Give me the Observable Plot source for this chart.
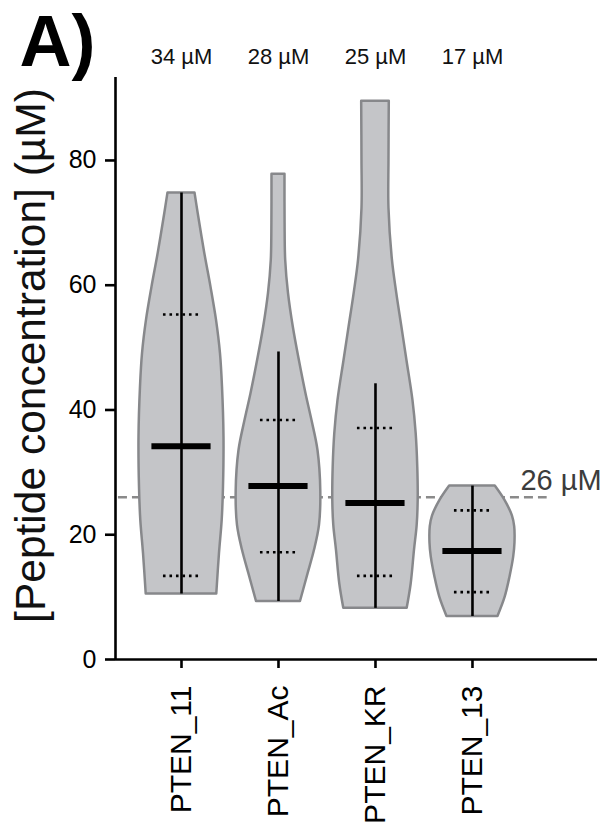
<!DOCTYPE html>
<html><head><meta charset="utf-8">
<script src="https://cdn.jsdelivr.net/npm/d3@7"></script>
<script src="https://cdn.jsdelivr.net/npm/@observablehq/plot@0.6"></script>
<style>body{margin:0;background:#fff}#chart svg{display:block}</style>
</head><body><div id="chart"></div>
<script>
const panelLabel = "A)";
const yLabel = "[Peptide concentration] (µM)";
const categories = ["PTEN_11", "PTEN_Ac", "PTEN_KR", "PTEN_13"];
const medianLabels = ["34 µM", "28 µM", "25 µM", "17 µM"];
const medians = [34.2, 27.8, 25.1, 17.4];
const q1 = [13.4, 17.2, 13.4, 10.8];
const q3 = [55.3, 38.4, 37.1, 23.9];
const whiskerLow = [10.5, 9.3, 8.2, 6.9];
const whiskerHigh = [74.8, 49.3, 44.2, 27.8];
const referenceValue = 26;
const referenceLabel = "26 µM";
const yTicks = [0, 20, 40, 60, 80];

// violin density profiles: [concentration, density (arbitrary units)]
const profile11 = [[10.5,35.3],[17.0,38],[22.3,40.7],[27.6,42],[35.7,42.5],[43.7,41],[49.0,39],[54.4,35],[59.7,29.5],[65.1,23.3],[71.5,16.7],[74.8,13.5]];
const profileAc = [[9.3,22],[13.8,29.7],[17.5,36],[21.5,41],[27,42.3],[33.5,39.5],[38.3,33.5],[42.6,27.5],[48,20.8],[53.3,14.8],[58.7,10],[64,7.2],[70,6.6],[77.8,6.5]];
const profileKR = [[8.2,31.7],[12.1,35.7],[17.5,39],[21.5,41.7],[25.5,42.7],[30.8,42.3],[36.2,40.7],[41.5,37.5],[47.9,31.5],[53.3,26.4],[58.7,21.3],[64.1,16.9],[72.3,13.5],[80,13.5],[89.5,13.8]];
const profile13 = [[6.9,25.5],[10,32.7],[13.2,37.5],[16.4,41.2],[18.7,42.5],[21.3,42.2],[23.0,40],[25.5,32.5],[27.8,22.8]];
const profiles = [profile11, profileAc, profileKR, profile13];

const densityToWidth = 1 / 97;   // density units -> category units (half-width)
const idx = categories.map((_, i) => i);
const pos = i => i + 1;

const violinRows = profiles.flatMap((p, i) => p.map(([v, d]) => ({
  cat: categories[i], value: v, lo: pos(i) - d * densityToWidth, hi: pos(i) + d * densityToWidth
})));

const font = "'Liberation Sans', Arial, Helvetica, sans-serif";
const fillGray = "#c4c5c8";
const strokeGray = "#87888b";

const chart = Plot.plot({
  width: 610,
  height: 828,
  marginLeft: 115,
  marginRight: 13,
  marginTop: 77,
  marginBottom: 169,
  style: {fontFamily: font, background: "#fff", overflow: "visible"},
  x: {domain: [0.3196, 5.289], axis: null},
  y: {domain: [0, 93.3], axis: null},
  marks: [
    // reference line
    Plot.ruleY([referenceValue], {x1: 0.35, x2: 4.77, stroke: "#8a8a8a", strokeWidth: 2.6, strokeDasharray: "9,5"}),
    Plot.text([referenceLabel], {x: 4.495, y: referenceValue, text: d => d, textAnchor: "start", lineAnchor: "bottom", dy: -7, fontSize: 29, fill: "#3c3c3c"}),
    // violins
    Plot.areaX(violinRows, {y: "value", x1: "lo", x2: "hi", z: "cat", curve: "catmull-rom", fill: fillGray, stroke: strokeGray, strokeWidth: 2.5}),
    // whiskers
    Plot.ruleX(idx, {x: pos, y1: i => whiskerLow[i], y2: i => whiskerHigh[i], stroke: "#000", strokeWidth: 2.6}),
    // quartiles
    Plot.ruleY(idx.flatMap(i => [[i, q1[i]], [i, q3[i]]]), {y: d => d[1], x1: d => pos(d[0]) - 0.186, x2: d => pos(d[0]) + 0.186, stroke: "#000", strokeWidth: 2.6, strokeDasharray: "2.6,3.9"}),
    // medians
    Plot.ruleY(idx, {y: i => medians[i], x1: i => pos(i) - 0.305, x2: i => pos(i) + 0.305, stroke: "#000", strokeWidth: 6}),
    // axes lines
    Plot.ruleY([0], {stroke: "#000", strokeWidth: 2.6}),
    Plot.ruleX([0.3196], {stroke: "#000", strokeWidth: 2.6}),
    Plot.axisY({ticks: yTicks, tickSize: 10, tickPadding: 9, fontSize: 25, strokeWidth: 2.6, label: null, color: "#000"}),
    Plot.axisX({ticks: idx.map(pos), tickFormat: d => categories[d - 1], tickRotate: -90, tickSize: 9, tickPadding: 17, fontSize: 30, strokeWidth: 2.6, label: null, color: "#000"}),
    // median labels on top
    Plot.text(idx, {x: pos, text: i => medianLabels[i], frameAnchor: "top", lineAnchor: "bottom", dy: -14, fontSize: 22, fill: "#111"}),
    // y label
    Plot.text([yLabel], {frameAnchor: "left", text: d => d, rotate: -90, textAnchor: "middle", lineAnchor: "bottom", dx: -71, dy: -13, fontSize: 42.5, fill: "#111"}),
    // panel label
    Plot.text([panelLabel], {frameAnchor: "top-left", text: d => d, textAnchor: "start", lineAnchor: "bottom", dx: -96, dy: -12, fontSize: 72, fontWeight: "bold", fill: "#000"})
  ]
});
document.getElementById("chart").appendChild(chart);
</script>
</body></html>
